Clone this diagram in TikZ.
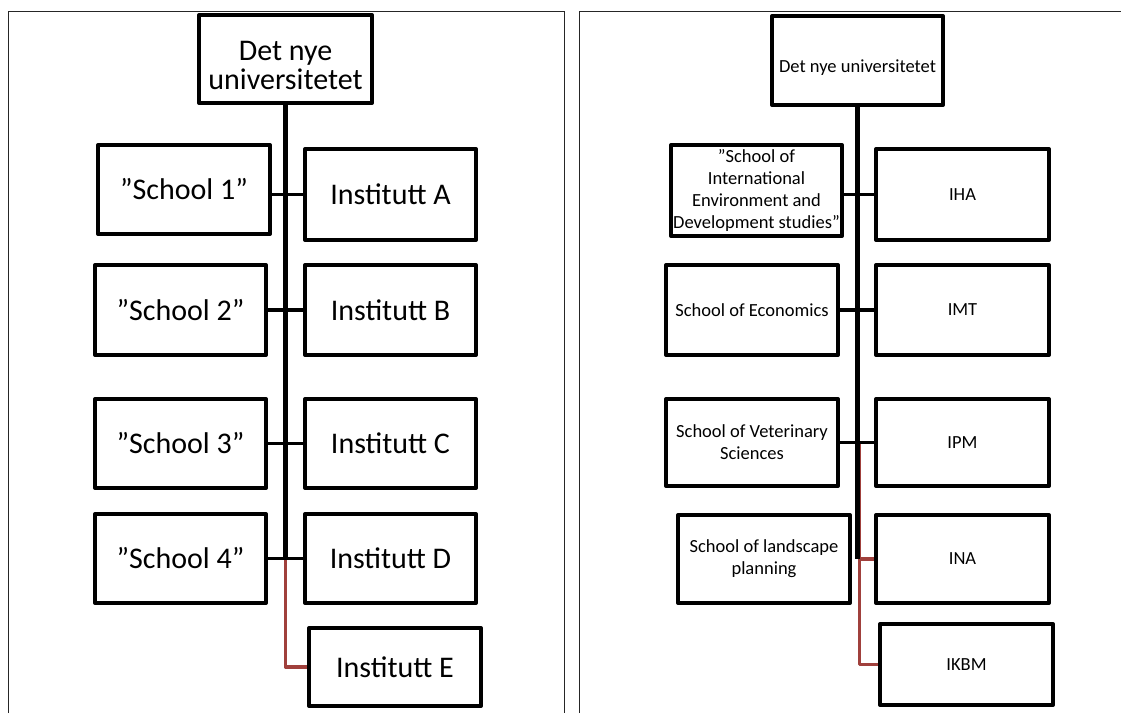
\documentclass[tikz,border=0pt]{standalone}
\usepackage{fontspec}
\setmainfont{Carlito}
\definecolor{linkred}{RGB}{160,64,60}
\begin{document}
\begin{tikzpicture}[x=1pt,y=-1pt,
  box/.style={draw=black, line width=4pt, line join=round, inner sep=2pt,
    align=center, font=\fontsize{30}{29}\selectfont},
  sbox/.style={box, font=\fontsize{18.5}{22}\selectfont},
  sz/.style 2 args={minimum width=#1, minimum height=#2},
  wire/.style={line width=3.5pt},
  trunk/.style={line width=5pt},
  redwire/.style={line width=3.5pt, draw=linkred, line join=round},
  frame/.style={line width=1.3pt, draw=black!85}]
\useasboundingbox (0,0) rectangle (1121,713);

% panel frames
\draw[frame] (8.6,713) -- (8.6,11.8) -- (564.3,11.8) -- (564.3,713);
\draw[frame] (579.3,713) -- (579.3,11.8) -- (1121,11.8);

% ---------- left chart ----------
\node[box, sz={173pt}{88pt}] (ltop) at (285.5,59) {\rule{0pt}{32pt}Det nye\\universitetet};
\node[box, sz={172pt}{89pt}] (ls1) at (184,189.5) {”School 1”};
\node[box, sz={171pt}{91pt}] (li1) at (390.5,194.5) {Institutt A};
\node[box, sz={171pt}{90pt}] (ls2) at (180.5,310) {”School 2”};
\node[box, sz={171pt}{90pt}] (li2) at (390.5,310) {Institutt B};
\node[box, sz={171pt}{89pt}] (ls3) at (180.5,443.5) {”School 3”};
\node[box, sz={171pt}{89pt}] (li3) at (390.5,443.5) {Institutt C};
\node[box, sz={171pt}{89pt}] (ls4) at (180.5,558.5) {”School 4”};
\node[box, sz={171pt}{89pt}] (li4) at (390.5,558.5) {Institutt D};
\node[box, sz={172pt}{78pt}] (li5) at (395,667) {Institutt E};

\coordinate (ljoin) at (ltop.south |- li4.west);
\draw[redwire] (ljoin) |- (li5.west);
\draw[trunk] (ltop.south) -- (ljoin);
\foreach \s/\i in {ls1/li1, ls2/li2, ls3/li3, ls4/li4}
  \draw[wire] (\s.east |- \i.west) -- (\i.west);

% ---------- right chart ----------
\node[sbox, sz={171pt}{89pt}, text height=26pt] (rtop) at (857.5,60.5) {Det nye universitetet};
\node[sbox, sz={171pt}{91pt}] (rs1) at (756.5,190.5)
  {”School of\\International\\Environment and\\Development studies”};
\node[sbox, sz={173pt}{91pt}] (riha) at (962.5,194.5) {IHA};
\node[sbox, sz={172pt}{90pt}] (rs2) at (752,310) {School of Economics};
\node[sbox, sz={173pt}{90pt}] (rimt) at (962.5,310) {IMT};
\node[sbox, sz={172pt}{87pt}] (rs3) at (752,442.5) {School of Veterinary\\Sciences};
\node[sbox, sz={173pt}{87pt}] (ripm) at (962.5,442.5) {IPM};
\node[sbox, sz={172pt}{88pt}] (rs4) at (764,559) {School of landscape\\planning};
\node[sbox, sz={173pt}{88pt}] (rina) at (962.5,559) {INA};
\node[sbox, sz={173pt}{81pt}] (rikbm) at (966.5,664.5) {IKBM};

\coordinate (rjoin) at (rtop.south |- rina.west);
\coordinate (rsplit) at ([xshift=2pt]rtop.south |- ripm.west);
\draw[redwire] (rsplit) |- (rikbm.west);
\draw[redwire] (rjoin) -- (rina.west);
\draw[trunk] (rtop.south) -- (rjoin);
\foreach \s/\i in {rs1/riha, rs2/rimt, rs3/ripm}
  \draw[wire] (\s.east |- \i.west) -- (\i.west);
\end{tikzpicture}
\end{document}
